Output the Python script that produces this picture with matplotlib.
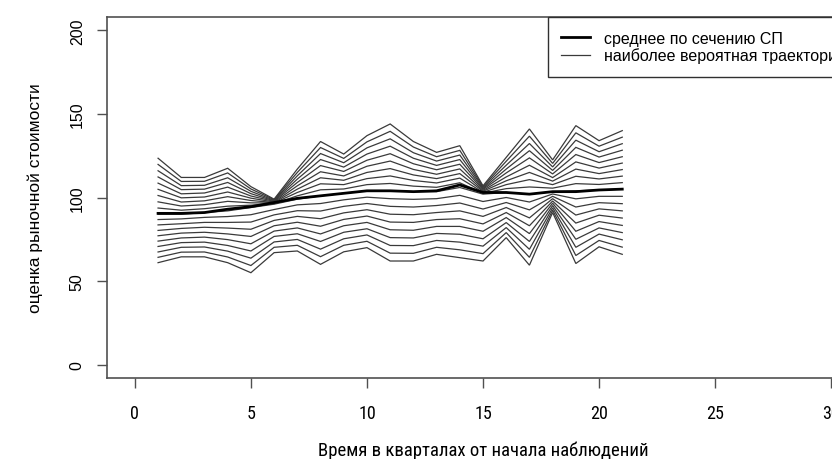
import matplotlib
matplotlib.use("Agg")
import matplotlib.pyplot as plt
from matplotlib.lines import Line2D
from matplotlib import font_manager

# ---- data ----
quarters = list(range(1, 22))

mean_line = [90.5, 90.5, 91, 93, 94.5, 97, 99.5, 101, 102.5, 104, 104, 103.5,
             104, 107.5, 103, 103, 102, 103.5, 103.5, 104.5, 105]

traj_00 = [61, 64.5, 64.5, 61, 55, 67, 68, 60, 67.5, 70, 62, 62, 66, 64, 62, 76, 59.5, 91, 60.5, 70.5, 66]
traj_01 = [64.2, 67.3, 67.4, 64.4, 59.3, 70.2, 71.4, 64.6, 71.4, 73.8, 66.7, 66.6, 70.2, 68.7, 66.4, 79, 64.2, 92.4, 65.3, 74.3, 70.3]
traj_02 = [67.4, 70.2, 70.4, 67.9, 63.7, 73.4, 74.9, 69.1, 75.3, 77.6, 71.3, 71.2, 74.3, 73.3, 70.9, 82, 69, 93.8, 70.2, 78.1, 74.7]
traj_03 = [70.7, 73.0, 73.3, 71.3, 68, 76.7, 78.3, 73.7, 79.2, 81.3, 76, 75.8, 78.5, 78, 75.3, 85, 73.7, 95.2, 75, 81.8, 79]
traj_04 = [73.9, 75.8, 76.3, 74.8, 72.3, 79.9, 81.8, 78.2, 83.1, 85.1, 80.7, 80.4, 82.7, 82.7, 79.8, 88, 78.4, 96.6, 79.8, 85.6, 83.3]
traj_05 = [77.1, 78.7, 79.2, 78.2, 76.7, 83.1, 85.2, 82.8, 86.9, 88.9, 85.3, 85.1, 86.8, 87.3, 84.2, 91, 83.1, 97.9, 84.7, 89.4, 87.7]
traj_06 = [80.3, 81.5, 82.2, 81.7, 81, 86.3, 88.7, 87.3, 90.8, 92.7, 90, 89.7, 91, 92, 88.7, 94, 87.8, 99.3, 89.5, 93.2, 92]
traj_07 = [83.6, 84.3, 85.1, 85.1, 85.3, 89.6, 92.1, 91.9, 94.7, 96.4, 94.7, 94.3, 95.2, 96.7, 93.1, 97, 92.6, 100.7, 94.3, 96.9, 96.3]
traj_08 = [86.8, 87.2, 88.1, 88.6, 89.7, 92.8, 95.6, 96.4, 98.6, 100.2, 99.3, 98.9, 99.3, 101.3, 97.6, 100, 97.3, 102.1, 99.2, 100.7, 100.7]
traj_09 = [90, 90, 91, 92, 94, 96, 99, 101, 102.5, 104, 104, 103.5, 103.5, 106, 102, 103, 102, 103.5, 104, 104.5, 105]
traj_10 = [93.7, 92.4, 93.3, 94.8, 95.4, 96.3, 101, 104.6, 105.1, 107.7, 108.4, 106.8, 106.1, 108.8, 102.6, 105.3, 106.3, 105.6, 108.3, 107.8, 108.9]
traj_11 = [97.4, 94.9, 95.7, 97.7, 96.8, 96.7, 103, 108.2, 107.7, 111.3, 112.9, 110.2, 108.7, 111.6, 103.1, 107.7, 110.7, 107.7, 112.7, 111.1, 112.8]
traj_12 = [101.2, 97.3, 98, 100.5, 98.2, 97, 105, 111.8, 110.3, 115, 117.3, 113.5, 111.3, 114.3, 103.7, 110, 115, 109.8, 117, 114.3, 116.7]
traj_13 = [104.9, 99.8, 100.3, 103.3, 99.6, 97.3, 107, 115.4, 112.9, 118.7, 121.8, 116.8, 113.9, 117.1, 104.2, 112.3, 119.3, 111.9, 121.3, 117.6, 120.6]
traj_14 = [108.6, 102.2, 102.7, 106.2, 100.9, 97.7, 109, 119.1, 115.6, 122.3, 126.2, 120.2, 116.6, 119.9, 104.8, 114.7, 123.7, 114.1, 125.7, 120.9, 124.4]
traj_15 = [112.3, 104.7, 105, 109, 102.3, 98, 111, 122.7, 118.2, 126, 130.7, 123.5, 119.2, 122.7, 105.3, 117, 128, 116.2, 130, 124.2, 128.3]
traj_16 = [116, 107.1, 107.3, 111.8, 103.7, 98.3, 113, 126.3, 120.8, 129.7, 135.1, 126.8, 121.8, 125.4, 105.9, 119.3, 132.3, 118.3, 134.3, 127.4, 132.2]
traj_17 = [119.8, 109.6, 109.7, 114.7, 105.1, 98.7, 115, 129.9, 123.4, 133.3, 139.6, 130.2, 124.4, 128.2, 106.4, 121.7, 136.7, 120.4, 138.7, 130.7, 136.1]
traj_18 = [123.5, 112, 112, 117.5, 106.5, 99, 117, 133.5, 126, 137, 144, 133.5, 127, 131, 107, 124, 141, 122.5, 143, 134, 140]

trajectories = [traj_00, traj_01, traj_02, traj_03, traj_04, traj_05, traj_06,
                traj_07, traj_08, traj_09, traj_10, traj_11, traj_12, traj_13,
                traj_14, traj_15, traj_16, traj_17, traj_18]

x_ticks = [0, 5, 10, 15, 20, 25, 30]
y_ticks = [0, 50, 100, 150, 200]
legend_labels = ["среднее по сечению СП", "наиболее вероятная траектория"]
x_title = "Время в кварталах от начала наблюдений"
y_title = "оценка рыночной стоимости"

# ---- fonts: look for an installed condensed face for the x axis ----
cands = []
for f in font_manager.fontManager.ttflist:
    nm = f.name
    if f.style != "normal" or f.weight not in (400, "normal", "regular"):
        continue
    if "Narrow" in nm or "Condensed" in nm or (f.stretch not in ("normal", 500) and
                                                  str(f.stretch) in ("condensed", "semi-condensed", "400", "300")):
        cands.append(f)
pref = ["Liberation Sans Narrow", "Arial Narrow", "Roboto Condensed",
        "Open Sans Condensed", "DejaVu Sans Condensed", "Noto Sans Condensed"]
chosen = None
for p in pref:
    for f in cands:
        if f.name == p:
            chosen = f
            break
    if chosen:
        break
if chosen is None and cands:
    chosen = cands[0]

regular = ["Liberation Sans", "DejaVu Sans"]
if chosen is not None:
    narrow_props = font_manager.FontProperties(fname=chosen.fname)
    narrow_scale = 1.0
else:
    narrow_props = font_manager.FontProperties(family=regular)
    narrow_scale = 0.92

# ---- drawing ----
W, H = 832, 460
fig = plt.figure(figsize=(W / 100, H / 100), dpi=100)
left, right, top, bottom = 107, 859, 18, 379
ax = fig.add_axes([left / W, (H - bottom) / H, (right - left) / W, (bottom - top) / H])

thin_col = "#3a3a3a"
for tr in trajectories:
    ax.plot(quarters, tr, color=thin_col, lw=0.9, solid_joinstyle="miter")
ax.plot(quarters, mean_line, color="black", lw=2.0)

ax.set_xlim(-1.2, 31.2)
ax.set_ylim(-8, 208)

for s in ax.spines.values():
    s.set_color("#505050")
    s.set_linewidth(1.2)

ax.set_xticks(x_ticks)
xt_fp = narrow_props.copy()
xt_fp.set_size(13 * narrow_scale)
ax.set_xticklabels([str(v) for v in x_ticks], fontproperties=xt_fp)
ax.set_yticks(y_ticks)
ax.set_yticklabels([str(v) for v in y_ticks], family=regular, fontsize=11.5,
                   rotation=90, va="center")
ax.tick_params(axis="both", direction="out", length=7, width=1.0,
               color="#505050")
ax.tick_params(axis="x", pad=12)
ax.tick_params(axis="y", pad=9)

xl_fp = narrow_props.copy()
xl_fp.set_size(13.5 * narrow_scale)
ax.set_xlabel(x_title, fontproperties=xl_fp, labelpad=13)
ax.set_ylabel(y_title, family=regular, fontsize=12.5, labelpad=19)

handles = [Line2D([], [], color="black", lw=2.0),
           Line2D([], [], color=thin_col, lw=0.9)]
leg = ax.legend(handles, legend_labels, loc="upper right", bbox_to_anchor=(1, 1),
                borderaxespad=0, fancybox=False, framealpha=1,
                edgecolor="#303030", prop={"family": regular, "size": 11.5},
                handlelength=1.8, handletextpad=0.85, labelspacing=0.12,
                borderpad=0.85)
leg.get_frame().set_linewidth(1.0)

fig.savefig("out.png", dpi=100)
